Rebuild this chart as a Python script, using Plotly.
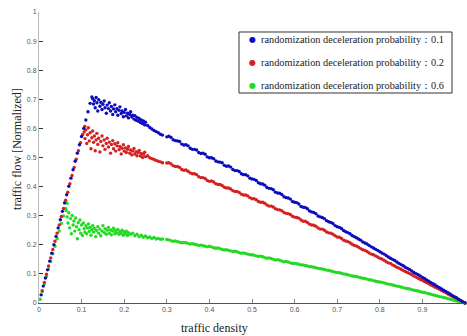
import plotly.graph_objects as go

# ---- traffic density / normalized flow samples for three slow-down probabilities ----

# congested branch: common density grids (whole and half steps)
CONGESTED_DENSITY = [
    0.30, 0.31, 0.32, 0.33, 0.34, 0.35, 0.36, 0.37, 0.38, 0.39,
    0.40, 0.41, 0.42, 0.43, 0.44, 0.45, 0.46, 0.47, 0.48, 0.49,
    0.50, 0.51, 0.52, 0.53, 0.54, 0.55, 0.56, 0.57, 0.58, 0.59,
    0.60, 0.61, 0.62, 0.63, 0.64, 0.65, 0.66, 0.67, 0.68, 0.69,
    0.70, 0.71, 0.72, 0.73, 0.74, 0.75, 0.76, 0.77, 0.78, 0.79,
    0.80, 0.81, 0.82, 0.83, 0.84, 0.85, 0.86, 0.87, 0.88, 0.89,
    0.90, 0.91, 0.92, 0.93, 0.94, 0.95, 0.96, 0.97, 0.98, 0.99,
    1.00,
]
CONGESTED_DENSITY_MID = [
    0.305, 0.315, 0.325, 0.335, 0.345, 0.355, 0.365, 0.375, 0.385, 0.395,
    0.405, 0.415, 0.425, 0.435, 0.445, 0.455, 0.465, 0.475, 0.485, 0.495,
    0.505, 0.515, 0.525, 0.535, 0.545, 0.555, 0.565, 0.575, 0.585, 0.595,
    0.605, 0.615, 0.625, 0.635, 0.645, 0.655, 0.665, 0.675, 0.685, 0.695,
    0.705, 0.715, 0.725, 0.735, 0.745, 0.755, 0.765, 0.775, 0.785, 0.795,
    0.805, 0.815, 0.825, 0.835, 0.845, 0.855, 0.865, 0.875, 0.885, 0.895,
    0.905, 0.915, 0.925, 0.935, 0.945, 0.955, 0.965, 0.975, 0.985, 0.995,
]

# p = 0.1
P1_FREE_DENSITY = [0.005, 0.010, 0.015, 0.020, 0.025, 0.030, 0.035, 0.040, 0.045, 0.050,
                   0.055, 0.060, 0.065, 0.070, 0.075, 0.080, 0.085, 0.090, 0.095, 0.100,
                   0.105, 0.110, 0.115, 0.120, 0.124]
P1_FREE_FLOW = [0.028, 0.058, 0.086, 0.114, 0.144, 0.171, 0.200, 0.229, 0.258, 0.286,
                0.315, 0.344, 0.372, 0.401, 0.429, 0.458, 0.487, 0.515, 0.544, 0.572,
                0.600, 0.629, 0.657, 0.686, 0.708]
P1_PEAK_DENSITY = [0.126, 0.128, 0.130, 0.132, 0.134, 0.136, 0.138, 0.140, 0.143, 0.145,
                   0.148, 0.150, 0.153, 0.155, 0.158, 0.160, 0.163, 0.165, 0.168, 0.170,
                   0.173, 0.175, 0.178, 0.180, 0.183, 0.185, 0.188, 0.190, 0.193, 0.195,
                   0.198, 0.200, 0.203, 0.205, 0.208, 0.210, 0.213, 0.215, 0.218, 0.220,
                   0.223, 0.225, 0.228, 0.230, 0.233, 0.235, 0.238, 0.240, 0.243, 0.245,
                   0.248, 0.250, 0.255, 0.260, 0.265, 0.270, 0.275, 0.280, 0.285, 0.290]
P1_PEAK_FLOW = [0.702, 0.684, 0.695, 0.671, 0.706, 0.688, 0.660, 0.699, 0.676, 0.690,
                0.665, 0.683, 0.694, 0.671, 0.652, 0.680, 0.668, 0.688, 0.660, 0.675,
                0.648, 0.667, 0.681, 0.657, 0.668, 0.645, 0.662, 0.674, 0.651, 0.660,
                0.640, 0.655, 0.665, 0.643, 0.652, 0.636, 0.648, 0.657, 0.639, 0.645,
                0.632, 0.644, 0.628, 0.638, 0.625, 0.634, 0.620, 0.629, 0.617, 0.626,
                0.612, 0.621, 0.610, 0.603, 0.598, 0.593, 0.589, 0.585, 0.580, 0.577]
P1_CONGESTED_FLOW = [
    0.571, 0.569, 0.558, 0.555, 0.543, 0.540, 0.528, 0.526, 0.514, 0.511,
    0.499, 0.496, 0.485, 0.482, 0.470, 0.467, 0.455, 0.452, 0.441, 0.437,
    0.426, 0.421, 0.410, 0.405, 0.394, 0.389, 0.378, 0.373, 0.362, 0.357,
    0.346, 0.340, 0.329, 0.324, 0.313, 0.307, 0.296, 0.290, 0.279, 0.273,
    0.262, 0.256, 0.245, 0.238, 0.228, 0.220, 0.210, 0.203, 0.193, 0.185,
    0.176, 0.168, 0.158, 0.150, 0.141, 0.132, 0.123, 0.115, 0.105, 0.097,
    0.088, 0.079, 0.070, 0.062, 0.053, 0.044, 0.035, 0.026, 0.018, 0.009,
    0.000,
]
P1_CONGESTED_FLOW_MID = [
    0.573, 0.561, 0.557, 0.546, 0.544, 0.532, 0.528, 0.517, 0.515, 0.502,
    0.499, 0.488, 0.484, 0.473, 0.471, 0.459, 0.455, 0.444, 0.441, 0.429,
    0.425, 0.413, 0.409, 0.397, 0.393, 0.381, 0.377, 0.365, 0.361, 0.349,
    0.345, 0.332, 0.328, 0.316, 0.311, 0.299, 0.294, 0.283, 0.277, 0.266,
    0.260, 0.249, 0.242, 0.232, 0.224, 0.216, 0.206, 0.198, 0.189, 0.181,
    0.172, 0.163, 0.154, 0.146, 0.136, 0.128, 0.119, 0.110, 0.101, 0.093,
    0.084, 0.075, 0.066, 0.057, 0.048, 0.040, 0.031, 0.022, 0.013, 0.004,
]

# p = 0.2
P2_FREE_DENSITY = [0.0075, 0.0125, 0.0175, 0.0225, 0.0275, 0.0325, 0.0375, 0.0425, 0.0475,
                   0.0525, 0.0575, 0.0625, 0.0675, 0.0725, 0.0775, 0.0825, 0.0875, 0.0925,
                   0.0975, 0.1025, 0.1075]
P2_FREE_FLOW = [0.042, 0.071, 0.099, 0.127, 0.155, 0.184, 0.212, 0.240, 0.268,
                0.297, 0.325, 0.353, 0.381, 0.410, 0.438, 0.466, 0.494, 0.523,
                0.551, 0.579, 0.607]
P2_PEAK_DENSITY = [0.106, 0.108, 0.110, 0.112, 0.114, 0.116, 0.118, 0.120, 0.122, 0.124,
                   0.126, 0.128, 0.130, 0.132, 0.134, 0.136, 0.138, 0.140, 0.143, 0.145,
                   0.148, 0.150, 0.153, 0.155, 0.158, 0.160, 0.163, 0.165, 0.168, 0.170,
                   0.173, 0.175, 0.178, 0.180, 0.183, 0.185, 0.188, 0.190, 0.193, 0.195,
                   0.198, 0.200, 0.203, 0.205, 0.208, 0.210, 0.213, 0.215, 0.218, 0.220,
                   0.223, 0.225, 0.228, 0.230, 0.233, 0.235, 0.238, 0.240, 0.243, 0.245,
                   0.248, 0.250, 0.255, 0.260, 0.265, 0.270, 0.275, 0.280, 0.285, 0.290]
P2_PEAK_FLOW = [0.588, 0.565, 0.595, 0.548, 0.578, 0.602, 0.557, 0.585, 0.530, 0.568,
                0.591, 0.552, 0.574, 0.523, 0.560, 0.583, 0.545, 0.566, 0.519, 0.555,
                0.574, 0.540, 0.560, 0.528, 0.548, 0.566, 0.536, 0.553, 0.515, 0.545,
                0.558, 0.530, 0.547, 0.522, 0.540, 0.551, 0.527, 0.538, 0.512, 0.532,
                0.544, 0.522, 0.533, 0.517, 0.528, 0.538, 0.515, 0.526, 0.509, 0.522,
                0.531, 0.512, 0.520, 0.506, 0.517, 0.524, 0.505, 0.514, 0.500, 0.511,
                0.518, 0.503, 0.506, 0.499, 0.496, 0.493, 0.490, 0.487, 0.485, 0.482]
P2_CONGESTED_FLOW = [
    0.481, 0.478, 0.469, 0.466, 0.456, 0.453, 0.444, 0.441, 0.431, 0.428,
    0.418, 0.416, 0.407, 0.404, 0.395, 0.392, 0.383, 0.380, 0.371, 0.368,
    0.358, 0.355, 0.346, 0.343, 0.333, 0.330, 0.321, 0.317, 0.308, 0.304,
    0.295, 0.291, 0.281, 0.277, 0.268, 0.264, 0.254, 0.250, 0.241, 0.236,
    0.227, 0.222, 0.213, 0.207, 0.198, 0.192, 0.183, 0.177, 0.168, 0.162,
    0.154, 0.147, 0.138, 0.131, 0.123, 0.116, 0.108, 0.101, 0.093, 0.085,
    0.078, 0.070, 0.062, 0.054, 0.047, 0.039, 0.031, 0.023, 0.016, 0.008,
    0.000,
]
P2_CONGESTED_FLOW_MID = [
    0.482, 0.472, 0.469, 0.459, 0.457, 0.447, 0.444, 0.434, 0.431, 0.421,
    0.419, 0.410, 0.407, 0.398, 0.395, 0.386, 0.383, 0.374, 0.371, 0.362,
    0.358, 0.349, 0.346, 0.337, 0.333, 0.324, 0.320, 0.311, 0.307, 0.298,
    0.294, 0.285, 0.281, 0.271, 0.267, 0.258, 0.254, 0.244, 0.240, 0.231,
    0.226, 0.216, 0.211, 0.202, 0.196, 0.187, 0.181, 0.172, 0.166, 0.158,
    0.151, 0.142, 0.136, 0.127, 0.120, 0.112, 0.105, 0.097, 0.089, 0.081,
    0.074, 0.066, 0.058, 0.051, 0.043, 0.035, 0.027, 0.020, 0.012, 0.004,
]

# p = 0.6
P6_FREE_DENSITY = [0.0025, 0.0075, 0.0125, 0.0175, 0.0225, 0.0275, 0.0325, 0.0375, 0.0425,
                   0.0475, 0.0525, 0.0575, 0.0625, 0.066]
P6_FREE_FLOW = [0.013, 0.039, 0.065, 0.091, 0.117, 0.143, 0.169, 0.195, 0.221,
                0.247, 0.273, 0.299, 0.325, 0.343]
P6_PEAK_DENSITY = [0.064, 0.066, 0.068, 0.070, 0.072, 0.074, 0.076, 0.078, 0.080, 0.082,
                   0.084, 0.086, 0.088, 0.090, 0.092, 0.094, 0.096, 0.098, 0.100, 0.102,
                   0.104, 0.106, 0.108, 0.110, 0.112, 0.114, 0.116, 0.118, 0.120, 0.122,
                   0.124, 0.126, 0.128, 0.130, 0.133, 0.135, 0.138, 0.140, 0.143, 0.145,
                   0.148, 0.150, 0.153, 0.155, 0.158, 0.160, 0.163, 0.165, 0.168, 0.170,
                   0.173, 0.175, 0.178, 0.180, 0.183, 0.185, 0.188, 0.190, 0.193, 0.195,
                   0.198, 0.200, 0.203, 0.205, 0.208, 0.210, 0.215, 0.220, 0.225, 0.230,
                   0.235, 0.240, 0.245, 0.250, 0.255, 0.260, 0.265, 0.270, 0.275, 0.280,
                   0.285, 0.290]
P6_PEAK_FLOW = [0.318, 0.296, 0.275, 0.310, 0.258, 0.290, 0.238, 0.301, 0.268, 0.282,
                0.247, 0.292, 0.262, 0.221, 0.276, 0.252, 0.285, 0.240, 0.268, 0.232,
                0.275, 0.255, 0.243, 0.266, 0.238, 0.258, 0.272, 0.246, 0.260, 0.233,
                0.252, 0.266, 0.244, 0.257, 0.228, 0.249, 0.262, 0.240, 0.254, 0.231,
                0.247, 0.266, 0.242, 0.255, 0.236, 0.250, 0.260, 0.240, 0.251, 0.234,
                0.247, 0.257, 0.238, 0.249, 0.241, 0.253, 0.236, 0.246, 0.239, 0.250,
                0.233, 0.244, 0.238, 0.247, 0.232, 0.242, 0.236, 0.240, 0.231, 0.236,
                0.228, 0.233, 0.226, 0.230, 0.224, 0.227, 0.222, 0.225, 0.220, 0.222,
                0.219, 0.220]
P6_CONGESTED_FLOW = [
    0.218, 0.214, 0.213, 0.209, 0.208, 0.205, 0.204, 0.200, 0.199, 0.195,
    0.195, 0.190, 0.189, 0.184, 0.183, 0.179, 0.178, 0.173, 0.172, 0.168,
    0.166, 0.162, 0.161, 0.156, 0.155, 0.150, 0.149, 0.144, 0.143, 0.138,
    0.136, 0.133, 0.131, 0.127, 0.125, 0.121, 0.118, 0.115, 0.112, 0.108,
    0.105, 0.102, 0.099, 0.095, 0.092, 0.089, 0.085, 0.082, 0.079, 0.075,
    0.072, 0.069, 0.065, 0.062, 0.058, 0.055, 0.051, 0.048, 0.044, 0.041,
    0.037, 0.034, 0.030, 0.026, 0.022, 0.019, 0.015, 0.011, 0.007, 0.004,
    0.000,
]
P6_CONGESTED_FLOW_MID = [
    0.217, 0.212, 0.211, 0.207, 0.207, 0.203, 0.202, 0.198, 0.197, 0.193,
    0.193, 0.188, 0.187, 0.182, 0.181, 0.177, 0.176, 0.171, 0.170, 0.166,
    0.164, 0.160, 0.159, 0.154, 0.153, 0.148, 0.147, 0.142, 0.141, 0.136,
    0.135, 0.131, 0.129, 0.125, 0.123, 0.119, 0.117, 0.113, 0.110, 0.106,
    0.104, 0.100, 0.097, 0.093, 0.091, 0.087, 0.084, 0.080, 0.077, 0.073,
    0.071, 0.067, 0.064, 0.060, 0.057, 0.053, 0.050, 0.046, 0.043, 0.039,
    0.036, 0.032, 0.028, 0.024, 0.021, 0.017, 0.013, 0.009, 0.006, 0.002,
]

LEGEND_LABELS = [
    "randomization deceleration probability：0.1",
    "randomization deceleration probability：0.2",
    "randomization deceleration probability：0.6",
]
COLORS = ["rgb(12,12,190)", "rgb(214,32,32)", "rgb(34,218,34)"]

TICKS = [0, 0.1, 0.2, 0.3, 0.4, 0.5, 0.6, 0.7, 0.8, 0.9, 1]
TICK_TEXT = ["0", "0.1", "0.2", "0.3", "0.4", "0.5", "0.6", "0.7", "0.8", "0.9", "1"]

series = [
    (P1_FREE_DENSITY + P1_PEAK_DENSITY + CONGESTED_DENSITY + CONGESTED_DENSITY_MID,
     P1_FREE_FLOW + P1_PEAK_FLOW + P1_CONGESTED_FLOW + P1_CONGESTED_FLOW_MID),
    (P2_FREE_DENSITY + P2_PEAK_DENSITY + CONGESTED_DENSITY + CONGESTED_DENSITY_MID,
     P2_FREE_FLOW + P2_PEAK_FLOW + P2_CONGESTED_FLOW + P2_CONGESTED_FLOW_MID),
    (P6_FREE_DENSITY + P6_PEAK_DENSITY + CONGESTED_DENSITY + CONGESTED_DENSITY_MID,
     P6_FREE_FLOW + P6_PEAK_FLOW + P6_CONGESTED_FLOW + P6_CONGESTED_FLOW_MID),
]

fig = go.Figure()
# draw p=0.6 first so the higher curves sit on top along the free-flow line
for i in (2, 1, 0):
    dens, flow = series[i]
    fig.add_trace(go.Scatter(
        x=dens, y=flow, mode="markers", name=LEGEND_LABELS[i],
        marker=dict(color=COLORS[i], size=3.4, line=dict(width=0)),
        cliponaxis=False, showlegend=False, hoverinfo="skip",
    ))

SERIF = "Liberation Serif, Times New Roman, serif"
SANS = "Liberation Sans, Arial, sans-serif"

axis_common = dict(
    range=[0, 1], tickvals=TICKS, ticktext=TICK_TEXT,
    ticks="inside", ticklen=4, tickwidth=1,
    showgrid=False, zeroline=False, showline=True, linewidth=1,
    tickfont=dict(family=SANS, size=7, color="#555"),
    automargin=False, fixedrange=True,
)

fig.update_layout(
    width=467, height=336,
    margin=dict(l=39, r=2, t=12, b=33),
    paper_bgcolor="white", plot_bgcolor="white",
    showlegend=False,
    xaxis=dict(**axis_common, linecolor="#555", tickcolor="#888"),
    yaxis=dict(**axis_common, linecolor="#bbb", tickcolor="#333"),
)

annotations = [
    dict(text="traffic density", xref="paper", yref="paper", x=0.413, y=-0.086,
         xanchor="center", yanchor="middle", showarrow=False,
         font=dict(family=SERIF, size=12, color="#222")),
    dict(text="traffic flow [Normalized]", xref="paper", yref="paper", x=-0.052, y=0.529,
         xanchor="center", yanchor="middle", textangle=-90, showarrow=False,
         font=dict(family=SERIF, size=12, color="#222")),
]

# legend box drawn in paper coordinates
legend_rows_y = [0.904, 0.828, 0.749]
for label, color, ly in zip(LEGEND_LABELS, COLORS, legend_rows_y):
    annotations.append(dict(text="●", xref="paper", yref="paper", x=0.5, y=ly,
                            xanchor="center", yanchor="middle", showarrow=False,
                            font=dict(family="DejaVu Sans", size=8, color=color)))
    annotations.append(dict(text=label, xref="paper", yref="paper", x=0.516, y=ly,
                            xanchor="left", yanchor="middle", showarrow=False,
                            font=dict(family=SERIF, size=10.3, color="#222")))
fig.update_layout(annotations=annotations)
fig.add_shape(type="rect", xref="paper", yref="paper",
              x0=0.4695, x1=0.9695, y0=0.7216, y1=0.9313,
              line=dict(color="#333", width=1), fillcolor="rgba(0,0,0,0)")

fig.write_html("out.html")
